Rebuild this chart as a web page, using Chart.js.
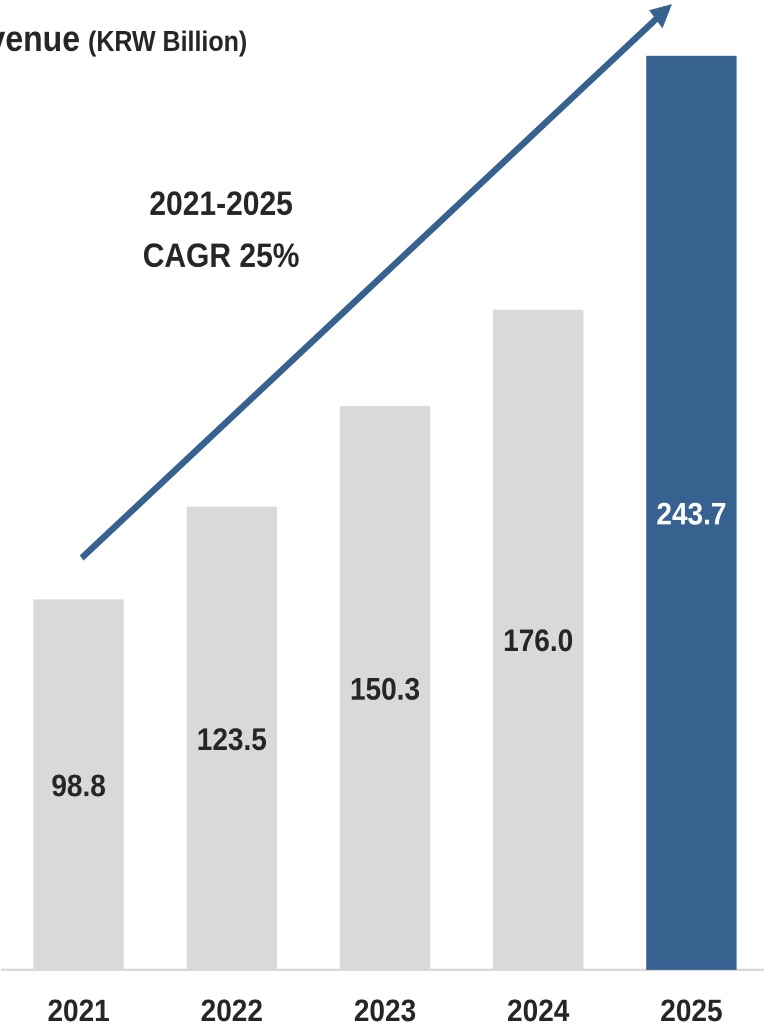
<!DOCTYPE html>
<html>
<head>
<meta charset="utf-8">
<script src="https://cdn.jsdelivr.net/npm/chart.js@4"></script>
<style>
	html, body { margin: 0; padding: 0; background: #fff; overflow: hidden; width: 764px; height: 1024px; }
	/* the reference is slightly stretched vertically, so the chart is drawn short and scaled */
	.wrapper { position: absolute; left: 0; top: 0; width: 769px; height: 906px; transform: scaleY(1.1302); transform-origin: 0 0; }
</style>
</head>
<body>
<div class="wrapper"><canvas id="revenue-chart"></canvas></div>
<script>
const years = ["2021", "2022", "2023", "2024", "2025"];
const revenue = [98.8, 123.5, 150.3, 176.0, 243.7];
const barColors = ["#d9d9d9", "#d9d9d9", "#d9d9d9", "#d9d9d9", "#37618f"];
const valueLabelColors = ["#262626", "#262626", "#262626", "#262626", "#ffffff"];
const titleMain = "Revenue";
const titleUnit = "(KRW Billion)";
const cagrLines = ["2021-2025", "CAGR 25%"];

// annotation anchors in data space: [category index, value]
const arrowFrom = [0.02, 109.8];
const arrowTo = [3.873, 257.5];
const cagrAnchors = [[0.93, 203.8], [0.93, 190.0]];

const FONT = "'Liberation Sans', Arial, sans-serif";
const TEXT_DARK = "#262626";

// value labels centred inside each bar
const barLabels = {
	id: "barLabels",
	afterDatasetsDraw(chart) {
		const ctx = chart.ctx;
		const meta = chart.getDatasetMeta(0);
		ctx.save();
		ctx.font = "bold 28px " + FONT;
		ctx.textAlign = "center";
		ctx.textBaseline = "middle";
		meta.data.forEach((bar, i) => {
			ctx.fillStyle = valueLabelColors[i];
			ctx.fillText(revenue[i].toFixed(1), bar.x, (bar.y + bar.base) / 2 + 2.5);
		});
		ctx.restore();
	},
};

// growth arrow, CAGR note and clipped title
const annotations = {
	id: "annotations",
	afterDatasetsDraw(chart) {
		const ctx = chart.ctx;
		const xs = chart.scales.x;
		const ys = chart.scales.y;

		const x1 = xs.getPixelForValue(arrowFrom[0]);
		const y1 = ys.getPixelForValue(arrowFrom[1]);
		const x2 = xs.getPixelForValue(arrowTo[0]);
		const y2 = ys.getPixelForValue(arrowTo[1]);
		const ang = Math.atan2(y2 - y1, x2 - x1);
		const headLen = 21;
		const headHalf = 10.5;
		const bx = x2 - Math.cos(ang) * headLen;
		const by = y2 - Math.sin(ang) * headLen;

		ctx.save();
		ctx.strokeStyle = "#37618f";
		ctx.fillStyle = "#37618f";
		ctx.lineWidth = 6;
		ctx.lineCap = "butt";
		ctx.beginPath();
		ctx.moveTo(x1, y1);
		ctx.lineTo(bx + Math.cos(ang) * 2, by + Math.sin(ang) * 2);
		ctx.stroke();

		ctx.beginPath();
		ctx.moveTo(x2, y2);
		ctx.lineTo(bx - Math.sin(ang) * headHalf, by + Math.cos(ang) * headHalf);
		ctx.lineTo(bx + Math.sin(ang) * headHalf, by - Math.cos(ang) * headHalf);
		ctx.closePath();
		ctx.fill();

		// CAGR note
		ctx.fillStyle = TEXT_DARK;
		ctx.font = "bold 30px " + FONT;
		ctx.textAlign = "center";
		ctx.textBaseline = "middle";
		cagrLines.forEach((line, i) => {
			const a = cagrAnchors[i];
			ctx.fillText(line, xs.getPixelForValue(a[0]), ys.getPixelForValue(a[1]));
		});

		// title, clipped at the left edge like the source
		ctx.textAlign = "left";
		ctx.textBaseline = "alphabetic";
		ctx.font = "bold 32px " + FONT;
		const w = ctx.measureText(titleMain).width;
		ctx.fillText(titleMain, 80 - w, 45);
		ctx.font = "bold 25px " + FONT;
		ctx.fillText(titleUnit, 88, 45);
		ctx.restore();
	},
};

const chartRef = document.getElementById("revenue-chart").getContext("2d");

new Chart(chartRef, {
	type: "bar",
	data: {
		labels: years,
		datasets: [
			{
				data: revenue,
				backgroundColor: barColors,
				borderWidth: 0,
				barPercentage: 0.59,
				categoryPercentage: 1,
			},
		],
	},
	options: {
		responsive: true,
		maintainAspectRatio: false,
		animation: false,
		devicePixelRatio: 2,
		layout: {
			padding: { left: 2, right: 1, top: 0, bottom: 0 },
		},
		scales: {
			x: {
				grid: { display: false, drawTicks: false },
				border: { display: true, color: "#d9d9d9", width: 2 },
				ticks: {
					color: TEXT_DARK,
					padding: 21,
					maxRotation: 0,
					font: { family: FONT, size: 28, weight: "bold" },
				},
				afterFit(scale) {
					scale.height = 48;
				},
			},
			y: {
				display: false,
				min: 0,
				max: 258.6,
			},
		},
		plugins: {
			legend: { display: false },
			tooltip: { enabled: false },
			title: { display: false },
		},
	},
	plugins: [barLabels, annotations],
});
</script>
</body>
</html>
